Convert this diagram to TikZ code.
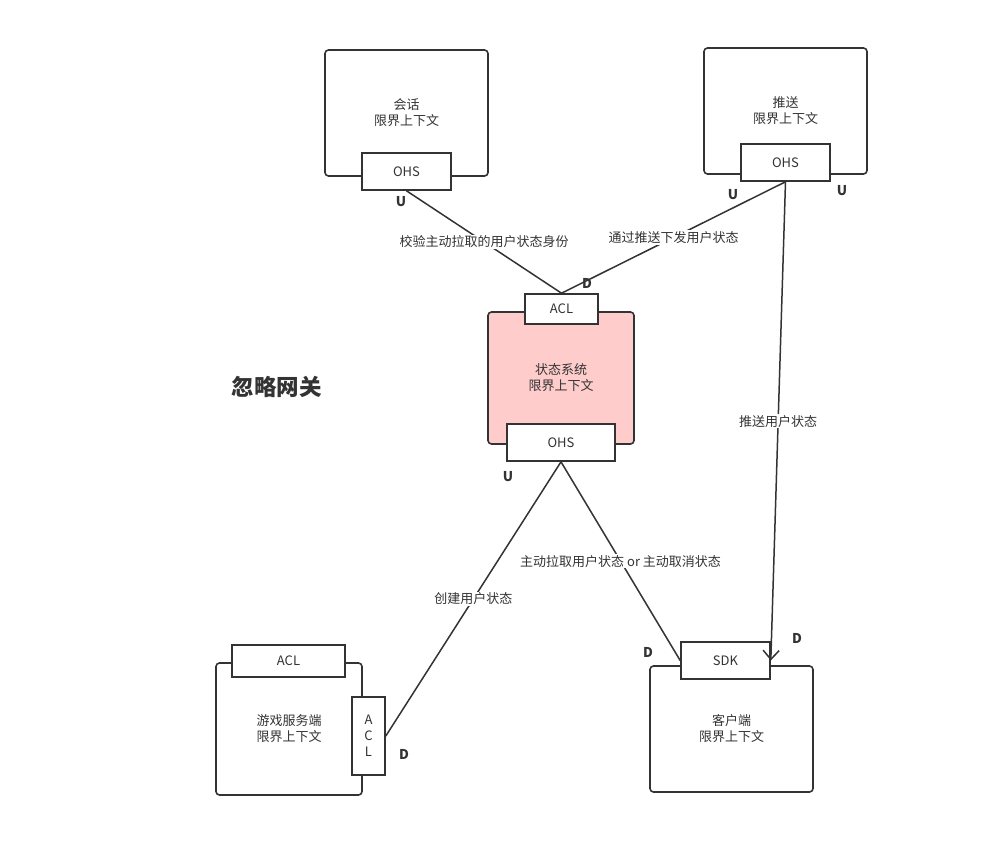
\documentclass[tikz,border=0pt]{standalone}
\usepackage{fontspec}
\setmainfont{Noto Sans CJK SC}
\usetikzlibrary{arrows.meta}
\definecolor{ink}{HTML}{333333}
\definecolor{hot}{HTML}{FFCCCC}
\tikzset{
  ctx/.style={draw=ink, line width=1.6pt, rounded corners=3.5pt, fill=white,
    align=center, text=ink, font=\fontsize{13}{16}\selectfont, inner sep=0pt},
  port/.style={draw=ink, line width=1.6pt, fill=white, text=ink,
    font=\fontsize{13}{15}\selectfont, inner sep=0pt, align=center},
  link/.style={draw=ink, line width=1.5pt},
  lbl/.style={fill=white, text=ink, font=\fontsize{13}{15}\selectfont, inner sep=1pt},
  tag/.style={text=ink, font=\bfseries\fontsize{13.5}{15}\selectfont, inner sep=0pt},
}
\begin{document}
\begin{tikzpicture}[x=1pt,y=-1pt]
\useasboundingbox (0,0) rectangle (983,857);

% bounded contexts
\node[ctx, minimum width=163pt, minimum height=126pt] (session) at (406.5,113) {会话\\限界上下文};
\node[ctx, minimum width=163pt, minimum height=126pt] (push) at (785.5,111) {推送\\限界上下文};
\node[ctx, fill=hot, minimum width=146pt, minimum height=132pt] (state) at (561,378) {状态系统\\限界上下文};
\node[ctx, minimum width=146pt, minimum height=132pt] (game) at (289,729) {游戏服务端\\限界上下文};
\node[ctx, minimum width=163pt, minimum height=126pt] (client) at (731.5,729) {客户端\\限界上下文};

% ports on the contexts
\node[port, minimum width=89pt, minimum height=37pt] (sessOHS) at (406.5,171.5) {OHS};
\node[port, minimum width=89pt, minimum height=37pt] (pushOHS) at (785.5,162.5) {OHS};
\node[port, minimum width=73pt, minimum height=30pt] (stateACL) at (561.5,309) {ACL};
\node[port, minimum width=108pt, minimum height=37pt] (stateOHS) at (561,442.5) {OHS};
\node[port, minimum width=113pt, minimum height=32pt] (gameACL) at (288.5,661) {ACL};
\node[port, minimum width=33pt, minimum height=78pt, font=\fontsize{13}{16}\selectfont] (gameACLv) at (368.5,736) {A\\C\\L};
\node[port, minimum width=89pt, minimum height=37pt] (sdk) at (725.5,660.5) {SDK};

% relationships
\draw[link] (sessOHS.south) -- node[lbl, pos=0.5] {校验主动拉取的用户状态身份} (stateACL.north);
\draw[link] (pushOHS.south) -- node[lbl, pos=0.5] {通过推送下发用户状态} (stateACL.north);
\draw[link, -{Straight Barb[length=9pt, width=16pt, line width=1.5pt]}] (pushOHS.south) -- node[lbl, pos=0.5] {推送用户状态} (sdk.east);
\draw[link] (stateOHS.south) -- node[lbl, pos=0.5] {创建用户状态} (gameACLv.east);
\draw[link] (stateOHS.south) -- node[lbl, pos=0.5] {主动拉取用户状态 or 主动取消状态} (sdk.west);

% upstream / downstream marks
\node[tag] (u1) at (401,202) {U};
\node[tag] (u2) at (733,195) {U};
\node[tag] (u3) at (842,191) {U};
\node[tag] (d1) at (587,283) {D};
\node[tag] (u4) at (508,477) {U};
\node[tag] (d2) at (648,652) {D};
\node[tag] (d3) at (797,638) {D};
\node[tag] (d4) at (404,754) {D};

% title
\node[text=ink, font=\bfseries\fontsize{22.5}{26}\selectfont, inner sep=0pt] (title) at (276.5,387) {忽略网关};
\end{tikzpicture}
\end{document}
